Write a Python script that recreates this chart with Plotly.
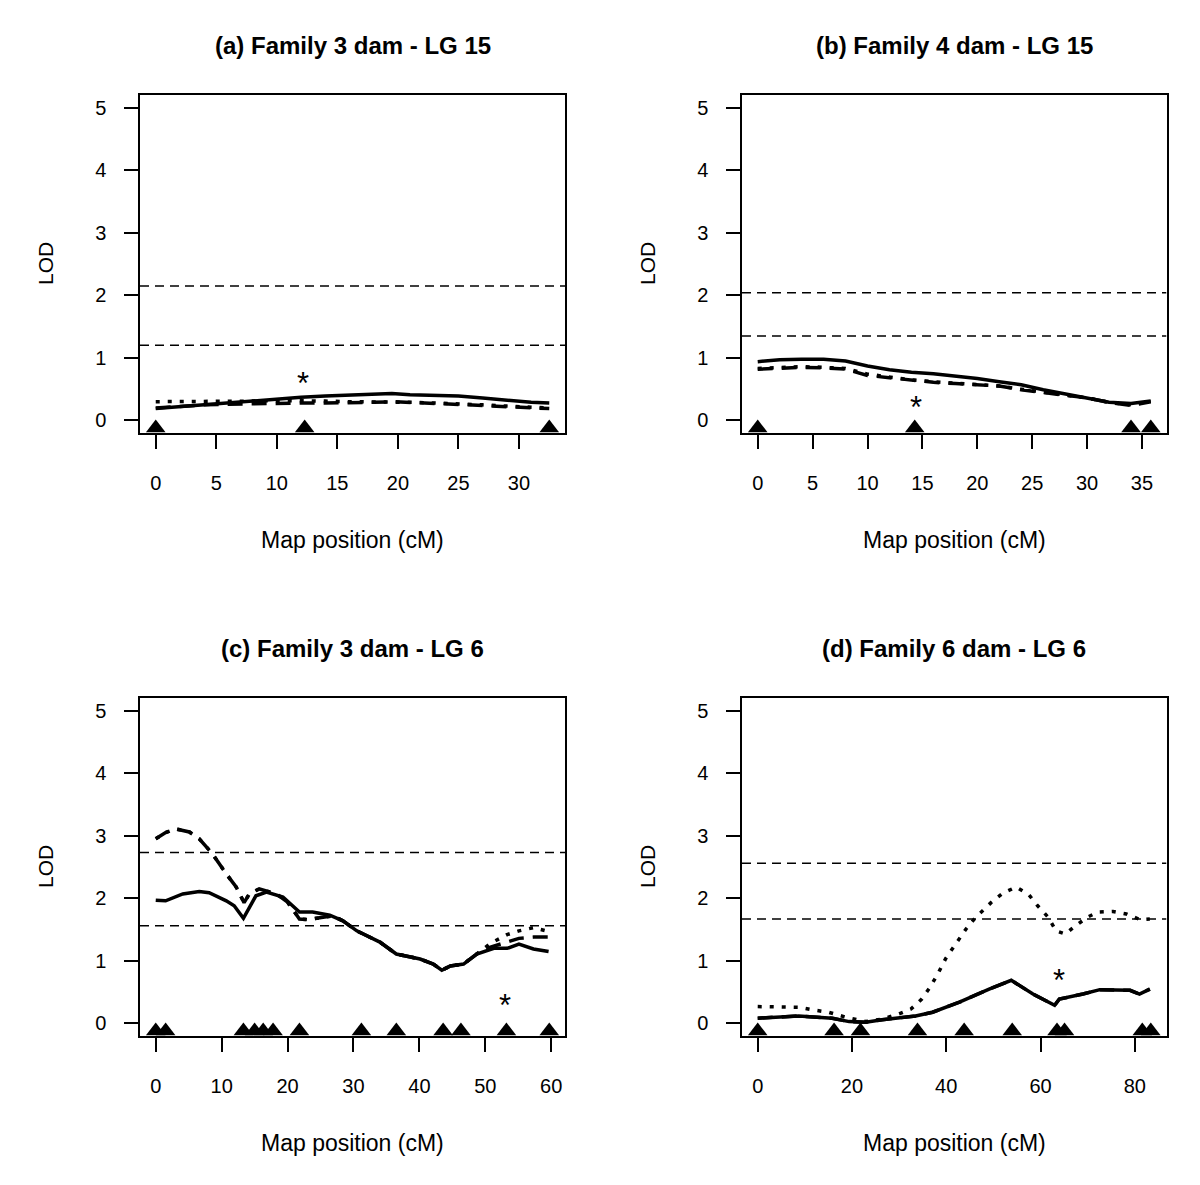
import plotly.graph_objects as go

# ---------------- data ----------------
titles = ["(a) Family 3 dam - LG 15", "(b) Family 4 dam - LG 15",
          "(c) Family 3 dam - LG 6", "(d) Family 6 dam - LG 6"]
x_label = "Map position (cM)"
y_label = "LOD"

# panel a
a_pos = [0, 2, 4, 6, 8, 10, 12, 14, 16, 18, 19.5, 21, 23, 25, 27, 29, 31, 32.5]
a_solid = [0.19, 0.22, 0.25, 0.29, 0.32, 0.35, 0.37, 0.39, 0.40, 0.41, 0.43, 0.41, 0.40, 0.39, 0.36, 0.32, 0.29, 0.28]
a_dashed = [0.20, 0.23, 0.25, 0.26, 0.27, 0.27, 0.28, 0.28, 0.28, 0.29, 0.30, 0.29, 0.28, 0.26, 0.24, 0.22, 0.20, 0.19]
a_dotted = [0.30, 0.30, 0.30, 0.30, 0.31, 0.32, 0.32, 0.31, 0.30, 0.30, 0.30, 0.29, 0.28, 0.27, 0.25, 0.23, 0.21, 0.20]
a_thresholds = [2.15, 1.2]
a_markers = [0, 12.3, 32.5]
a_star = (12.2, 0.69)
a_ticks = [0, 5, 10, 15, 20, 25, 30]

# panel b
b_pos = [0, 2, 4, 6, 8, 10, 12, 14, 16, 18, 20, 22, 24, 26, 28, 30, 32, 34, 35.8]
b_solid = [0.94, 0.97, 0.98, 0.98, 0.95, 0.87, 0.81, 0.77, 0.745, 0.71, 0.67, 0.62, 0.57, 0.49, 0.42, 0.36, 0.29, 0.27, 0.31]
b_dashed = [0.82, 0.84, 0.85, 0.84, 0.82, 0.72, 0.68, 0.64, 0.61, 0.59, 0.57, 0.55, 0.49, 0.45, 0.41, 0.36, 0.29, 0.24, 0.30]
b_dotted = [0.83, 0.85, 0.86, 0.85, 0.83, 0.74, 0.69, 0.65, 0.62, 0.60, 0.58, 0.55, 0.50, 0.45, 0.41, 0.36, 0.29, 0.25, 0.30]
b_thresholds = [2.04, 1.35]
b_markers = [0, 14.3, 34.0, 35.8]
b_star = (14.4, 0.30)
b_ticks = [0, 5, 10, 15, 20, 25, 30, 35]

# panel c
c_solid_pos = [0, 1.5, 4.1, 6.6, 8.1, 10.7, 11.9, 13.3, 15.2, 16.8, 19.3, 20.8, 21.8, 23.8, 26.4, 28.4, 30.5,
               34.0, 36.5, 40.1, 42.1, 43.4, 44.7, 46.7, 48.7, 51.3, 53.3, 55.1, 57.3, 59.6]
c_solid = [1.97, 1.96, 2.07, 2.11, 2.09, 1.96, 1.88, 1.68, 2.04, 2.10, 2.02, 1.88, 1.78, 1.78, 1.73, 1.64, 1.48,
           1.30, 1.11, 1.03, 0.95, 0.85, 0.92, 0.95, 1.11, 1.20, 1.20, 1.27, 1.19, 1.15]
c_dashed_pos = [0, 1.5, 3, 5.1, 6.6, 8.6, 10.7, 12.2, 13.4, 14.2, 15.7, 18.3, 20, 21.8, 23.0, 24.4, 26.9, 28.4,
                30.5, 34.0, 36.5, 40.1, 42.1, 43.4, 44.7, 46.7, 48.7, 50.8, 53.3, 55.1, 57.3, 59.6]
c_dashed = [2.95, 3.05, 3.11, 3.06, 2.95, 2.71, 2.39, 2.18, 1.93, 2.07, 2.15, 2.07, 1.94, 1.67, 1.66, 1.68, 1.72, 1.64,
            1.48, 1.30, 1.11, 1.03, 0.95, 0.85, 0.92, 0.95, 1.11, 1.22, 1.30, 1.36, 1.38, 1.38]
c_dotted = [2.95, 3.05, 3.11, 3.06, 2.95, 2.71, 2.39, 2.18, 1.93, 2.07, 2.15, 2.07, 1.94, 1.67, 1.66, 1.68, 1.72, 1.64,
            1.48, 1.30, 1.11, 1.03, 0.95, 0.85, 0.92, 0.95, 1.11, 1.28, 1.42, 1.48, 1.53, 1.47]
c_thresholds = [2.73, 1.56]
c_markers = [0, 1.5, 13.3, 15.0, 16.3, 17.8, 21.8, 31.2, 36.5, 43.6, 46.3, 53.2, 59.7]
c_star = (53.0, 0.39)
c_ticks = [0, 10, 20, 30, 40, 50, 60]

# panel d
d_solid_pos = [0, 8.7, 15.8, 19.4, 22.9, 26.4, 33.5, 37.1, 42.8, 49.1, 53.8, 58.4, 63.0, 64.0, 69.0, 72.6, 79.0, 81.0, 83.2]
d_solid = [0.085, 0.12, 0.085, 0.03, 0.02, 0.06, 0.12, 0.18, 0.34, 0.55, 0.69, 0.47, 0.29, 0.39, 0.47, 0.54, 0.53, 0.47, 0.55]
d_dashed = [0.085, 0.12, 0.085, 0.03, 0.02, 0.06, 0.12, 0.18, 0.34, 0.55, 0.69, 0.47, 0.29, 0.39, 0.47, 0.54, 0.53, 0.47, 0.55]
d_dotted_pos = [0, 5.9, 8.8, 12.3, 15.0, 18.7, 22.9, 26.4, 30.0, 32.5, 34.8, 36.4, 38.2, 39.9, 42.2, 44.2, 46.3,
                49.5, 52.0, 54.8, 57.5, 59.4, 61.6, 63.3, 65.3, 67.4, 70.0, 72.2, 75.4, 78.2, 81.1, 83.2]
d_dotted = [0.27, 0.27, 0.26, 0.21, 0.18, 0.10, 0.03, 0.07, 0.155, 0.23, 0.39, 0.56, 0.79, 1.04, 1.30, 1.51, 1.70,
            1.93, 2.08, 2.18, 2.06, 1.88, 1.70, 1.48, 1.43, 1.56, 1.70, 1.78, 1.79, 1.75, 1.66, 1.67]
d_thresholds = [2.56, 1.67]
d_markers = [0, 16.2, 21.8, 33.9, 43.8, 54.0, 63.5, 65.1, 81.6, 83.4]
d_star = (64.0, 0.78)
d_ticks = [0, 20, 40, 60, 80]

y_ticks = [0, 1, 2, 3, 4, 5]

panels = [
    dict(solid=(a_pos, a_solid), dashed=(a_pos, a_dashed), dotted=(a_pos, a_dotted),
         thr=a_thresholds, mk=a_markers, star=a_star, ticks=a_ticks),
    dict(solid=(b_pos, b_solid), dashed=(b_pos, b_dashed), dotted=(b_pos, b_dotted),
         thr=b_thresholds, mk=b_markers, star=b_star, ticks=b_ticks),
    dict(solid=(c_solid_pos, c_solid), dashed=(c_dashed_pos, c_dashed), dotted=(c_dashed_pos, c_dotted),
         thr=c_thresholds, mk=c_markers, star=c_star, ticks=c_ticks),
    dict(solid=(d_solid_pos, d_solid), dashed=(d_solid_pos, d_dashed), dotted=(d_dotted_pos, d_dotted),
         thr=d_thresholds, mk=d_markers, star=d_star, ticks=d_ticks),
]

# ---------------- layout geometry (pixels, page coords) ----------------
OFF = 8                      # default body margin of the html page
W, H = 1200 - OFF, 1185 - OFF
col_px = [(140 - OFF, 565 - OFF), (742 - OFF, 1166.5 - OFF)]
row_px = [(95 - OFF, 433 - OFF), (698 - OFF, 1036 - OFF)]

FONT = "Liberation Sans, Arial, sans-serif"

fig = go.Figure()
layout = dict(width=W, height=H, margin=dict(l=0, r=0, t=0, b=0, autoexpand=False),
              paper_bgcolor="white", plot_bgcolor="white", showlegend=False,
              font=dict(family=FONT, color="black"))
annotations = []

for i, p in enumerate(panels):
    r, c = divmod(i, 2)
    n = i + 1
    xa = "x" if n == 1 else f"x{n}"
    ya = "y" if n == 1 else f"y{n}"
    x0, x1 = col_px[c]
    t0, b0 = row_px[r]
    xmax = max(p["mk"] + list(p["solid"][0]))
    xr = [-0.04 * xmax, 1.04 * xmax]

    # thresholds
    for th in p["thr"]:
        fig.add_trace(go.Scatter(x=xr, y=[th, th], mode="lines", xaxis=xa, yaxis=ya,
                                 line=dict(color="black", width=1.5, dash="9px,6px"), hoverinfo="skip"))
    # curves
    fig.add_trace(go.Scatter(x=p["dotted"][0], y=p["dotted"][1], mode="lines", xaxis=xa, yaxis=ya,
                             line=dict(color="black", width=3.5, dash="4px,8px")))
    fig.add_trace(go.Scatter(x=p["dashed"][0], y=p["dashed"][1], mode="lines", xaxis=xa, yaxis=ya,
                             line=dict(color="black", width=3.5, dash="15px,9px")))
    fig.add_trace(go.Scatter(x=p["solid"][0], y=p["solid"][1], mode="lines", xaxis=xa, yaxis=ya,
                             line=dict(color="black", width=3.5)))
    # markers
    fig.add_trace(go.Scatter(x=p["mk"], y=[-0.12] * len(p["mk"]), mode="markers", xaxis=xa, yaxis=ya,
                             marker=dict(symbol="triangle-up", size=17, color="black",
                                         line=dict(width=0)), cliponaxis=False))
    # asterisk
    sx, sy = p["star"]
    annotations.append(dict(text="*", x=sx, y=sy, xref=xa, yref=ya, showarrow=False,
                            xanchor="center", yanchor="middle", yshift=-6,
                            font=dict(size=31, family=FONT, color="black")))

    axkey_x = "xaxis" if n == 1 else f"xaxis{n}"
    axkey_y = "yaxis" if n == 1 else f"yaxis{n}"
    layout[axkey_x] = dict(domain=[x0 / W, x1 / W], range=xr, anchor=ya,
                           tickvals=p["ticks"], ticks="outside", ticklen=14, tickwidth=1.5,
                           tickcolor="black", showline=True, mirror=True, linecolor="black",
                           linewidth=1.5, showgrid=False, zeroline=False,
                           tickfont=dict(size=20, family=FONT), ticklabelstandoff=17)
    layout[axkey_y] = dict(domain=[1 - b0 / H, 1 - t0 / H], range=[-0.2, 5.2], anchor=xa,
                           tickvals=y_ticks, ticks="outside", ticklen=14, tickwidth=1.5,
                           tickcolor="black", showline=True, mirror=True, linecolor="black",
                           linewidth=1.5, showgrid=False, zeroline=False,
                           tickfont=dict(size=20, family=FONT), ticklabelstandoff=14)

    cx = (x0 + x1) / 2 / W
    annotations.append(dict(text="<b>" + titles[i] + "</b>", x=cx, y=1 - (45 - OFF + 603 * r) / H,
                            xref="paper", yref="paper", showarrow=False,
                            xanchor="center", yanchor="middle", font=dict(size=24, family=FONT)))
    annotations.append(dict(text=x_label, x=cx, y=1 - (540 - OFF + 603 * r) / H,
                            xref="paper", yref="paper", showarrow=False,
                            xanchor="center", yanchor="middle", font=dict(size=23, family=FONT)))
    annotations.append(dict(text=y_label, x=(x0 - 95) / W, y=1 - ((t0 + b0) / 2) / H,
                            xref="paper", yref="paper", showarrow=False, textangle=-90,
                            xanchor="center", yanchor="middle", font=dict(size=21, family=FONT)))

layout["annotations"] = annotations
fig.update_layout(**layout)
fig.write_html("out.html")
